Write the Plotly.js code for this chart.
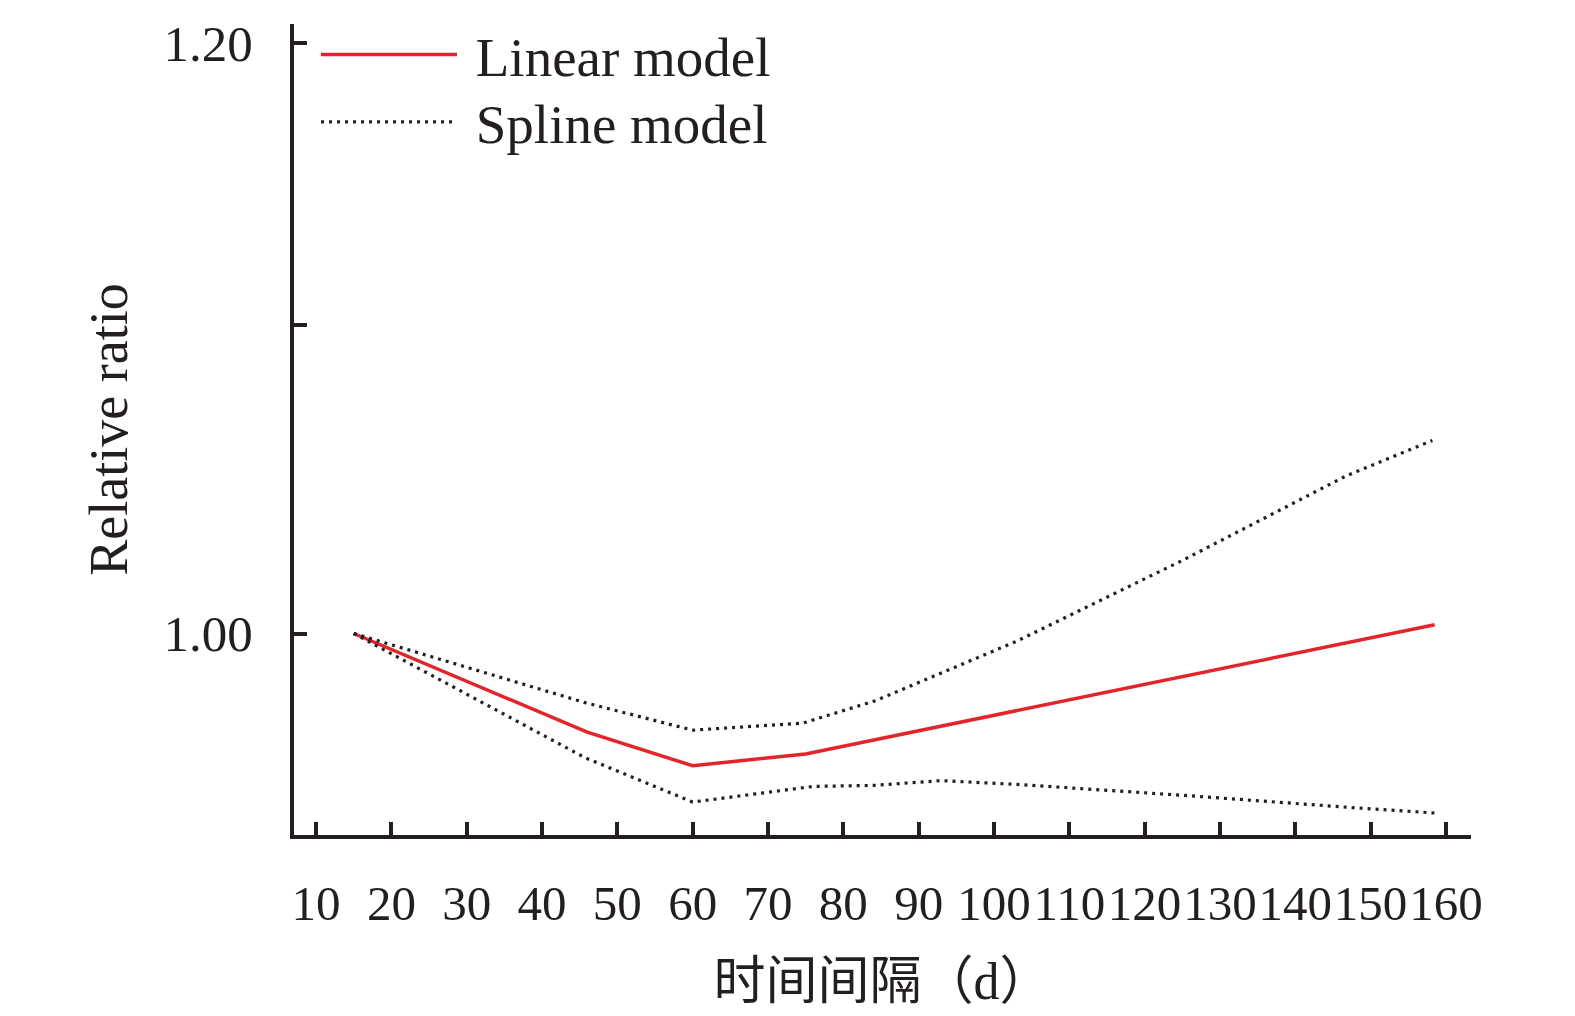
<!DOCTYPE html>
<html>
<head>
<meta charset="utf-8">
<script src="https://cdn.plot.ly/plotly-3.0.1.min.js"></script>
<style>html,body{margin:0;padding:0;background:#fff;}#chart{width:1575px;height:1016px;}</style>
</head>
<body>
<div id="chart"></div>
<script>
// Data
const linearX = [15, 46, 60, 75, 158.5];
const linearY = [1.0000, 0.9700, 0.9600, 0.9635, 1.0027];

const splineUpperX = [15, 45.7, 60, 74.6, 84.3, 95.9, 103, 125, 146.8, 158.2];
const splineUpperY = [1.0000, 0.9789, 0.9706, 0.9727, 0.9795, 0.9906, 0.9976, 1.0228, 1.0499, 1.0614];

const splineLowerX = [15, 45.7, 60, 76, 84, 93, 103, 125, 146.8, 158.5];
const splineLowerY = [1.0000, 0.9624, 0.9493, 0.9539, 0.9542, 0.9556, 0.9545, 0.9513, 0.9478, 0.9461];

const xTickVals = [10,20,30,40,50,60,70,80,90,100,110,120,130,140,150,160];
const yTickVals = [1.0, 1.1, 1.2];
const yTickText = ['1.00', '', '1.20'];

const seriesNames = ['Linear model', 'Spline model'];
const xTitle = '时间间隔（d）';
const yTitle = 'Relative ratio';

const ink = '#231f20';
const serif = 'Liberation Serif, Noto Sans CJK SC, serif';
const pad = '\u00a0';

const traces = [
  {x: linearX, y: linearY, type: 'scatter', mode: 'lines', name: pad + seriesNames[0],
   legend: 'legend', line: {color: '#e2252b', width: 3.5}},
  {x: splineUpperX, y: splineUpperY, type: 'scatter', mode: 'lines', name: pad + seriesNames[1],
   legend: 'legend2', line: {color: ink, width: 3.2, dash: '3px,5px'}},
  {x: splineLowerX, y: splineLowerY, type: 'scatter', mode: 'lines', name: pad + seriesNames[1],
   legend: 'legend2', showlegend: false, line: {color: ink, width: 3.2, dash: '3px,5px'}}
];

const legendBase = {xanchor: 'left', yanchor: 'middle', itemwidth: 136,
  font: {family: serif, size: 55, color: ink}, bgcolor: 'rgba(0,0,0,0)', borderwidth: 0};

const layout = {
  width: 1575, height: 1016,
  margin: {l: 294, r: 104, t: 14, b: 181},
  paper_bgcolor: '#fff', plot_bgcolor: '#fff',
  font: {family: serif, color: ink, size: 50},
  showlegend: true,
  legend: Object.assign({}, legendBase, {x: 0.0187, y: 0.962}),
  legend2: Object.assign({}, legendBase, {x: 0.0187, y: 0.879}),
  xaxis: {
    range: [7.07, 163.33], tickvals: xTickVals, ticks: 'inside', ticklen: 13, tickwidth: 4,
    tickcolor: ink, showline: true, linewidth: 4, linecolor: ink, showgrid: false, zeroline: false,
    tickangle: 0, automargin: false,
    tickfont: {family: serif, size: 49, color: ink}, ticklabelstandoff: 22,
    title: {text: xTitle, font: {family: serif, size: 52, color: ink}, standoff: 34}
  },
  yaxis: {
    type: 'log', range: [-0.02701, 0.0817], tickvals: yTickVals, ticktext: yTickText,
    ticks: 'inside', ticklen: 13, tickwidth: 4, tickcolor: ink, automargin: false,
    showline: true, linewidth: 4, linecolor: ink, showgrid: false, zeroline: false,
    tickfont: {family: serif, size: 51, color: ink}, ticklabelstandoff: 27,
    title: {text: yTitle, font: {family: serif, size: 54, color: ink}, standoff: 20}
  }
};

Plotly.newPlot('chart', traces, layout, {displayModeBar: false, staticPlot: true});
</script>
</body>
</html>
